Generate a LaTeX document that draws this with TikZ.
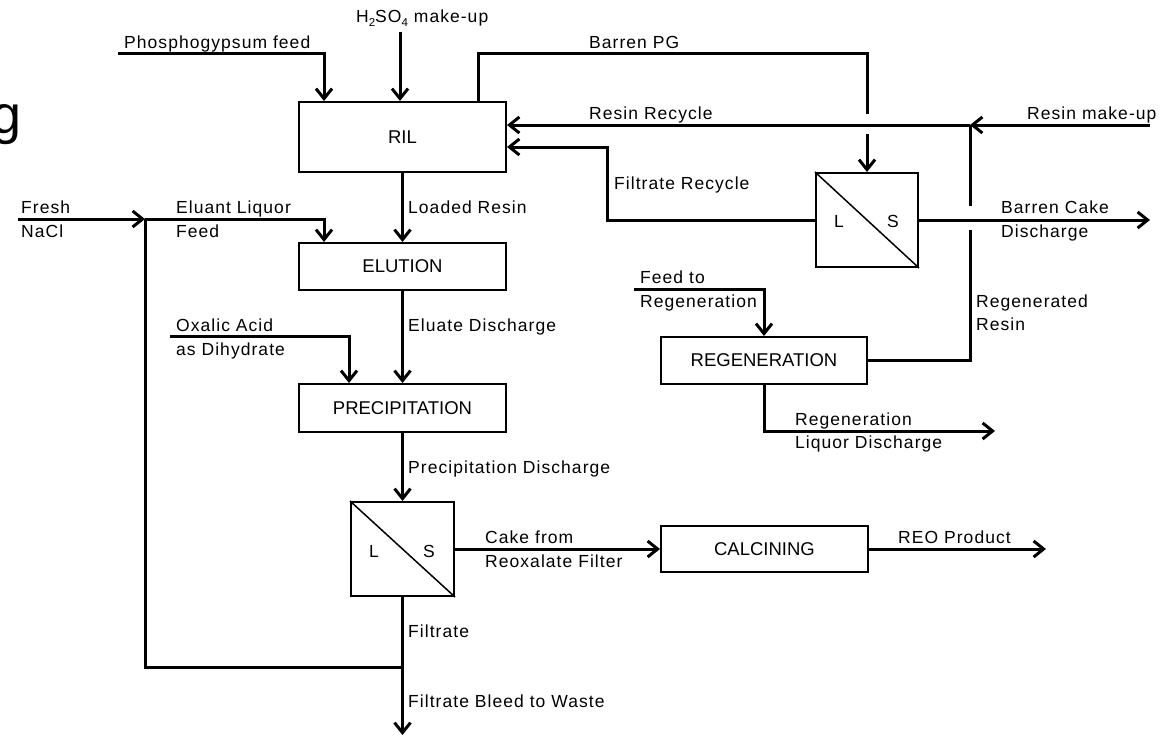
\documentclass[tikz,border=0pt]{standalone}
\usepackage{fontspec}
\setmainfont{Liberation Sans}
\newfontfamily\labfont{Liberation Sans}[LetterSpace=6]
\newfontfamily\bxfont{Liberation Sans}
\usetikzlibrary{arrows.meta,calc}
\newcommand{\lsub}[1]{\raisebox{-0.25em}{\fontsize{11.5}{12}\selectfont #1}}
\tikzset{
  conn/.style={line width=3pt, line join=miter},
  arr/.style={conn, -{Straight Barb[length=10pt,width=16pt]}},
  gapw/.style={draw=white, line width=6pt},
  proc/.style={draw, line width=2pt, minimum width=207pt, inner sep=0pt,
    font=\bxfont\fontsize{18.5}{22}\selectfont},
  filt/.style={draw, line width=2pt, minimum width=102pt, minimum height=94pt, inner sep=0pt},
  diag/.style={line width=1.5pt},
  lab/.style={font=\labfont\fontsize{17.5}{20}\selectfont, inner sep=0pt, anchor=base west},
  ls/.style={font=\labfont\fontsize{17.5}{20}\selectfont, inner sep=0pt}
}
\begin{document}
\begin{tikzpicture}[x=1pt,y=-1pt]
\useasboundingbox (0,0) rectangle (1173,736);
\fill[white] (0,0) rectangle (1173,736);

% stray glyph at left edge (cut off in the reference as well)
\node[font=\fontsize{54}{60}\selectfont, inner sep=0pt, anchor=base east] (gg) at (22,133) {g};

% process boxes
\node[proc, minimum height=70pt] (RIL) at (402.5,137) {RIL};
\node[proc, minimum height=47pt] (ELU) at (402.5,266.5) {ELUTION};
\node[proc, minimum height=48pt] (PRE) at (402.5,408) {PRECIPITATION};
\node[proc, minimum width=206pt, minimum height=47pt] (REG) at (764,360.5) {REGENERATION};
\node[proc, minimum height=46pt] (CAL) at (764.5,549) {CALCINING};

% filters
\node[filt] (F1) at (867,220) {};
\node[filt, minimum width=103pt] (F2) at (402.5,549) {};
\draw[diag] (F1.north west) -- (F1.south east);
\draw[diag] (F2.north west) -- (F2.south east);
\node[ls] (F1L) at (839,221) {L};
\node[ls] (F1S) at (893,221) {S};
\node[ls] (F2L) at (374,551) {L};
\node[ls] (F2S) at (429,551) {S};

% free ends / junctions
\coordinate (pgin) at (118,53);
\coordinate (h2in) at (400,32);
\coordinate (bpg) at (867,53);
\coordinate (rmu) at (1150,125);
\coordinate (rj) at (970,125);
\coordinate (fr) at (607,147);
\coordinate (bcd) at (1150,220);
\coordinate (frg) at (634,289);
\coordinate (rld) at (995,431);
\coordinate (nacl) at (18,219);
\coordinate (nj) at (145,219);
\coordinate (fj) at (402.5,667);
\coordinate (ox) at (170,336);
\coordinate (reo) at (1046,549);
\coordinate (waste) at (402.5,735);

% connectors into RIL
\draw[arr] (pgin) -| ($(RIL.north west)+(26,0)$);
\draw[arr] (h2in) -- (h2in |- RIL.north);
\draw[arr] ($(RIL.north west)+(180,0)$) |- (bpg) -- (F1.north);
\draw[gapw] (867,114) -- (867,134);
\draw[arr] (rmu) -- (rj);
\draw[arr] (rj) -- (RIL.east |- rj);
\draw[arr] (F1.west) -| (fr) -- (RIL.east |- fr);

% regenerated resin & barren cake
\draw[conn] (REG.east) -| (rj);
\draw[gapw] (970,206) -- (970,230);
\draw[arr] (F1.east) -- (bcd);
\draw[arr] (frg) -| (REG.north);
\draw[arr] (REG.south) |- (rld);

% main train
\draw[arr] (RIL.south) -- (ELU.north);
\draw[arr] (nacl) -- (nj);
\draw[arr] (nj) -| ($(ELU.north west)+(26,0)$);
\draw[conn] (nj) |- (fj);
\draw[arr] (ELU.south) -- (PRE.north);
\draw[arr] (ox) -| ($(PRE.north west)+(51,0)$);
\draw[arr] (PRE.south) -- (F2.north);
\draw[arr] (F2.east) -- (CAL.west);
\draw[arr] (CAL.east) -- (reo);
\draw[arr] (F2.south) -- (waste);

% labels
\node[lab] (t1) at (124,48) {Phosphogypsum feed};
\node[lab] (t2) at (356,22) {H\lsub{2}SO\lsub{4} make-up};
\node[lab] (t3) at (589,48) {Barren PG};
\node[lab] (t4) at (589,119) {Resin Recycle};
\node[lab] (t5) at (1027,119) {Resin make-up};
\node[lab] (t6) at (614,189) {Filtrate Recycle};
\node[lab] (t7) at (408,213) {Loaded Resin};
\node[lab] (t8) at (21,213) {Fresh};
\node[lab] (t9) at (21,237) {NaCl};
\node[lab] (t10) at (176,213) {Eluant Liquor};
\node[lab] (t11) at (176,237) {Feed};
\node[lab] (t12) at (1001,213) {Barren Cake};
\node[lab] (t13) at (1001,237) {Discharge};
\node[lab] (t14) at (640,283) {Feed to};
\node[lab] (t15) at (640,307) {Regeneration};
\node[lab] (t16) at (976,307) {Regenerated};
\node[lab] (t17) at (976,330) {Resin};
\node[lab] (t18) at (176,331) {Oxalic Acid};
\node[lab] (t19) at (176,355) {as Dihydrate};
\node[lab] (t20) at (408,331) {Eluate Discharge};
\node[lab] (t21) at (795,425) {Regeneration};
\node[lab] (t22) at (795,448) {Liquor Discharge};
\node[lab] (t23) at (408,473) {Precipitation Discharge};
\node[lab] (t24) at (485,543) {Cake from};
\node[lab] (t25) at (485,567) {Reoxalate Filter};
\node[lab] (t26) at (898,543) {REO Product};
\node[lab] (t27) at (408,637) {Filtrate};
\node[lab] (t28) at (408,707) {Filtrate Bleed to Waste};
\end{tikzpicture}
\end{document}
